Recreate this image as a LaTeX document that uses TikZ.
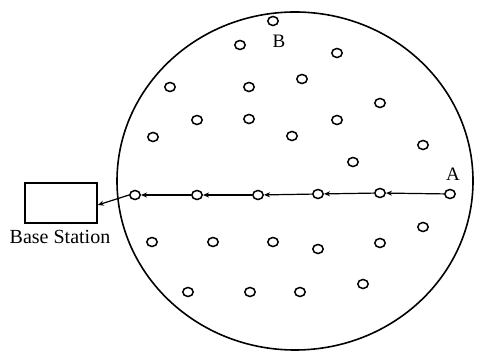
\documentclass[tikz,border=0pt]{standalone}
\usepackage{fontspec}
\setmainfont{Liberation Serif}
\usetikzlibrary{shapes.geometric,arrows.meta}
\begin{document}
\begin{tikzpicture}[x=1pt,y=-1pt,
  sensor/.style={ellipse,draw,line width=1.5pt,minimum width=10.5pt,minimum height=9pt,inner sep=0pt,fill=white},
  lbl/.style={font=\fontsize{19}{21}\selectfont,inner sep=0pt},
  hop/.style={line width=1.2pt,-{Stealth[length=6pt,width=5pt]}},
  bsbox/.style={draw,line width=1.6pt,minimum width=72pt,minimum height=40pt,inner sep=0pt}]
\useasboundingbox (0,0) rectangle (479,352);
\draw[line width=1.6pt] (295,181) ellipse [x radius=178, y radius=169];
% base station
\node[bsbox] (bs) at (61,203) {};
\node[lbl,font=\fontsize{20}{22}\selectfont] (bslbl) at (60,237) {Base Station};
% path nodes
\node[sensor] (r1) at (135,195) {};
\node[sensor] (r2) at (197,195) {};
\node[sensor] (r3) at (258,195) {};
\node[sensor] (r4) at (318,194) {};
\node[sensor] (r5) at (380,193) {};
\node[sensor] (a) at (450,194) {};
\node[lbl] (alab) at (453,174) {A};
% top
\node[sensor] (b) at (273,21) {};
\node[lbl] (blab) at (279,41) {B};
\node[sensor] (s1) at (240,45) {};
\node[sensor] (s2) at (337,53) {};
\node[sensor] (s3) at (170,87) {};
\node[sensor] (s4) at (249,87) {};
\node[sensor] (s5) at (302,79) {};
\node[sensor] (s6) at (380,103) {};
\node[sensor] (s7) at (197,120) {};
\node[sensor] (s8) at (249,119) {};
\node[sensor] (s9) at (337,120) {};
\node[sensor] (s10) at (153,137) {};
\node[sensor] (s11) at (292,136) {};
\node[sensor] (s12) at (423,145) {};
\node[sensor] (s13) at (353,162) {};
% bottom
\node[sensor] (t1) at (423,227) {};
\node[sensor] (t2) at (152,242) {};
\node[sensor] (t3) at (213,242) {};
\node[sensor] (t4) at (273,242) {};
\node[sensor] (t5) at (318,249) {};
\node[sensor] (t6) at (380,243) {};
\node[sensor] (t7) at (188,292) {};
\node[sensor] (t8) at (250,292) {};
\node[sensor] (t9) at (300,292) {};
\node[sensor] (t10) at (363,284) {};
% multi-hop route
\draw[hop] (a) -- (r5);
\draw[hop] (r5) -- (r4);
\draw[hop] (r4) -- (r3);
\draw[hop] (r3) -- (r2);
\draw[hop] (r2) -- (r1);
\draw[hop] (r1.west) -- (bs.east |- 0,205);
\end{tikzpicture}
\end{document}
